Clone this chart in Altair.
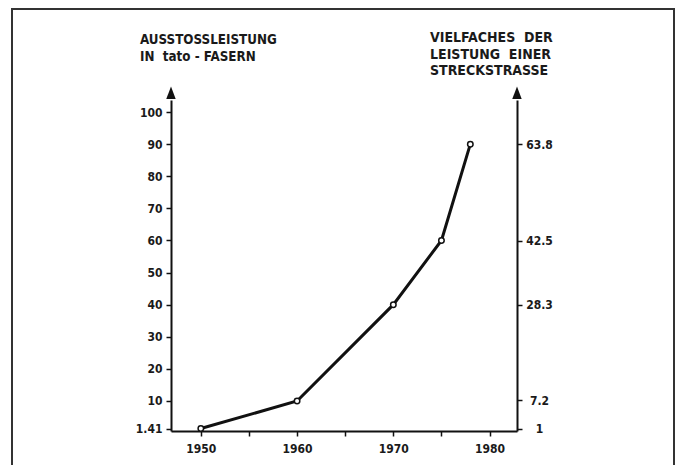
import altair as alt
import pandas as pd

# data
years = [1950, 1960, 1970, 1975, 1978]
output = [1.41, 10, 40, 60, 90]
left_ticks = [1.41, 10, 20, 30, 40, 50, 60, 70, 80, 90, 100]
right_ticks = [1, 7.2, 28.3, 42.5, 63.8]
x_ticks = [1950, 1955, 1960, 1965, 1970, 1975, 1980]
NB = "\u00a0"
left_title = ["AUSSTOSSLEISTUNG", "IN" + NB + NB + "tato" + NB + "-" + NB + "FASERN"]
right_title = ["VIELFACHES" + NB + NB + "DER", "LEISTUNG" + NB + NB + "EINER", "STRECKSTRASSE"]

FONT = "DejaVu Sans Condensed, DejaVu Sans, sans-serif"
W, H = 346, 331

df = pd.DataFrame({"year": years, "value": output})
rdf = pd.DataFrame({"year": [1950] * len(right_ticks), "r": right_ticks})
one = pd.DataFrame({"a": [0]})

xscale = alt.Scale(domain=[1946.9, 1982.85], nice=False, zero=False)
yscale = alt.Scale(domain=[0.65, 103.75], nice=False, zero=False)
rscale = alt.Scale(domain=[0.65 / 1.41, 103.75 / 1.41], nice=False, zero=False)

xaxis = alt.Axis(values=x_ticks, tickCount=20, title=None, grid=False, labelOverlap=False,
                 labelExpr="datum.value % 10 == 0 ? format(datum.value, 'd') : ''",
                 tickSize=5, labelPadding=7, domainWidth=2, tickWidth=1.5)
laxis = alt.Axis(values=left_ticks, tickCount=20, title=None, grid=False, orient="left",
                 labelOverlap=False, labelExpr="format(datum.value, '~g')",
                 tickSize=5, labelPadding=4, domainWidth=2, tickWidth=1.5)
raxis = alt.Axis(values=right_ticks, tickCount=20, title=None, grid=False, orient="right",
                 labelOverlap=False, labelExpr="format(datum.value, '~g')",
                 labelAlign="center",
                 tickSize=5, labelPadding=17, domainWidth=2, tickWidth=1.5)

line = alt.Chart(df).mark_line(color="#111", strokeWidth=3).encode(
    x=alt.X("year:Q", scale=xscale, axis=xaxis),
    y=alt.Y("value:Q", scale=yscale, axis=laxis),
)
pts = alt.Chart(df).mark_point(shape="circle", filled=True, fill="white",
                               stroke="#111", strokeWidth=1.5, size=30, opacity=1).encode(
    x=alt.X("year:Q", scale=xscale, axis=xaxis),
    y=alt.Y("value:Q", scale=yscale, axis=laxis),
)
left = alt.layer(line, pts)

right = alt.Chart(rdf).mark_point(opacity=0).encode(
    x=alt.X("year:Q", scale=xscale, axis=xaxis),
    y=alt.Y("r:Q", scale=rscale, axis=raxis),
)

arrow_shape = "M-0.8,1L0.8,1L0,-1.1Z"
arrow_l = alt.Chart(one).mark_point(
    shape=arrow_shape, filled=True, color="#111", size=140, opacity=1
).encode(x=alt.value(0), y=alt.value(-7))
arrow_r = alt.Chart(one).mark_point(
    shape=arrow_shape, filled=True, color="#111", size=140, opacity=1
).encode(x=alt.value(W), y=alt.value(-7))

frame = alt.Chart(one).mark_rect(
    fill="transparent", stroke="#333", strokeWidth=2
).encode(
    x=alt.value(-159), x2=alt.value(503), y=alt.value(-91), y2=alt.value(420)
)

ltitle = alt.Chart(one).mark_text(
    align="left", baseline="middle", font=FONT, fontSize=13.3, fontWeight="bold",
    color="#1a1a1a", lineHeight=17
).encode(x=alt.value(-31), y=alt.value(-60), text=alt.value(left_title))

rtitle = alt.Chart(one).mark_text(
    align="left", baseline="middle", font=FONT, fontSize=14, fontWeight="bold",
    color="#1a1a1a", lineHeight=16.5
).encode(x=alt.value(259), y=alt.value(-62), text=alt.value(right_title))

chart = alt.layer(left, right, arrow_l, arrow_r, frame, ltitle, rtitle).resolve_scale(
    y="independent"
).properties(
    width=W, height=H,
    autosize=alt.AutoSizeParams(type="none"),
    padding={"left": 163, "top": 92, "right": 158, "bottom": 34},
    background="white",
).configure_view(strokeWidth=0).configure_axis(
    domainColor="#111", tickColor="#111", labelColor="#1a1a1a",
    labelFont=FONT, labelFontSize=12, labelFontWeight="bold",
)

chart.save("out.html", embed_options={"renderer": "svg", "actions": False})
